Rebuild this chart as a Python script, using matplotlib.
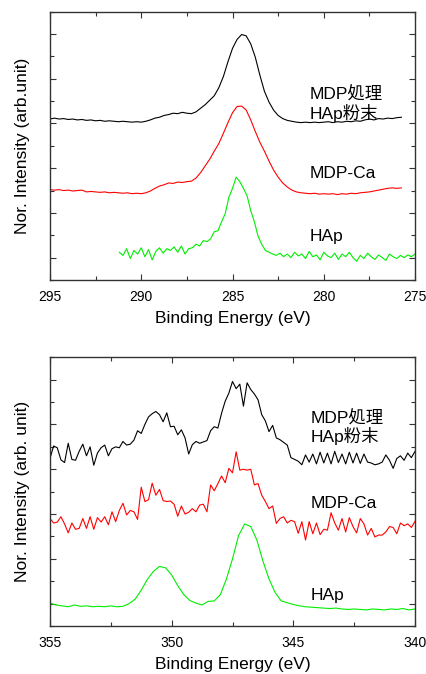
import matplotlib
matplotlib.use("Agg")
import matplotlib.pyplot as plt
from matplotlib.ticker import MultipleLocator
import numpy as np

plt.rcParams['font.family'] = ['Liberation Sans', 'Noto Sans CJK JP', 'DejaVu Sans']

# ---- C 1s region (top panel) ----
c1s_black_range = (295.0, 275.75)
c1s_black = [3.60, 3.62, 3.60, 3.61, 3.59, 3.60, 3.58, 3.59, 3.57, 3.58,
             3.56, 3.57, 3.55, 3.56, 3.55, 3.54, 3.55, 3.54, 3.53, 3.54,
             3.53, 3.55, 3.58, 3.62, 3.64, 3.68, 3.70, 3.73, 3.72, 3.75,
             3.73, 3.72, 3.76, 3.84, 3.92, 4.02, 4.12, 4.30, 4.55, 4.88,
             5.18, 5.38, 5.49, 5.46, 5.28, 4.98, 4.58, 4.22, 3.98, 3.80,
             3.68, 3.61, 3.57, 3.55, 3.53, 3.52, 3.53, 3.52, 3.53, 3.52,
             3.53, 3.54, 3.52, 3.54, 3.53, 3.55, 3.54, 3.56, 3.55, 3.58,
             3.60, 3.58, 3.61, 3.60, 3.62, 3.61, 3.63, 3.64]

c1s_red_range = (295.0, 275.75)
c1s_red = [2.02, 2.01, 2.02, 2.00, 2.01, 1.99, 2.00, 2.01, 1.97, 1.98,
           1.97, 1.96, 1.97, 1.95, 1.96, 1.95, 1.94, 1.95, 1.93, 1.94,
           1.93, 1.95, 1.99, 2.05, 2.10, 2.13, 2.17, 2.16, 2.19, 2.18,
           2.20, 2.21, 2.28, 2.40, 2.55, 2.70, 2.88, 3.05, 3.28, 3.52,
           3.74, 3.88, 3.89, 3.80, 3.58, 3.32, 3.08, 2.88, 2.66, 2.46,
           2.30, 2.17, 2.08, 2.01, 1.97, 1.95, 1.94, 1.93, 1.94, 1.92,
           1.93, 1.92, 1.93, 1.91, 1.93, 1.92, 1.94, 1.93, 1.95, 1.96,
           1.97, 1.99, 2.01, 2.03, 2.05, 2.06, 2.05, 2.06]

c1s_green_range = (291.2, 275.0)
c1s_green = [0.62, 0.55, 0.70, 0.48, 0.66, 0.58, 0.72, 0.52, 0.68, 0.45,
             0.64, 0.72, 0.60, 0.70, 0.66, 0.74, 0.62, 0.76, 0.58, 0.70,
             0.72, 0.80, 0.76, 0.88, 0.86, 0.92, 1.08, 1.10, 1.30, 1.48,
             1.85, 2.05, 2.30, 2.20, 2.05, 1.88, 1.55, 1.30, 0.98, 0.80,
             0.66, 0.62, 0.58, 0.55, 0.60, 0.52, 0.58, 0.50, 0.62, 0.54,
             0.58, 0.48, 0.64, 0.52, 0.56, 0.45, 0.62, 0.54, 0.50, 0.60,
             0.46, 0.58, 0.52, 0.62, 0.50, 0.42, 0.55, 0.48, 0.60, 0.52,
             0.46, 0.56, 0.50, 0.44, 0.58, 0.52, 0.48, 0.55, 0.50, 0.56,
             0.52, 0.58]

# ---- Ca 2p region (bottom panel) ----
ca2p_black_range = (355.0, 340.0)
ca2p_black = [3.74, 4.02, 3.98, 3.71, 3.65, 4.08, 3.72, 3.70, 3.90, 4.06,
              3.80, 4.00, 3.59, 3.86, 3.98, 4.04, 3.80, 3.96, 4.00, 3.98,
              4.12, 4.04, 4.06, 4.15, 4.36, 4.30, 4.50, 4.67, 4.74, 4.79,
              4.72, 4.56, 4.76, 4.45, 4.46, 4.27, 4.38, 4.20, 3.84, 4.05,
              4.12, 4.08, 4.11, 4.14, 4.36, 4.45, 4.42, 4.75, 5.02, 5.20,
              5.46, 5.30, 5.40, 4.91, 5.43, 5.28, 5.18, 5.05, 4.72, 4.58,
              4.34, 4.48, 4.20, 4.16, 4.10, 4.04, 3.76, 3.72, 3.68, 3.60,
              3.82, 3.66, 3.84, 3.62, 3.88, 3.64, 3.86, 3.62, 3.90, 3.65,
              3.84, 3.62, 3.88, 3.64, 3.86, 3.63, 3.84, 3.66, 3.64, 3.60,
              3.62, 3.66, 3.82, 3.70, 3.52, 3.74, 3.80, 3.70, 3.86, 3.76,
              3.90]

ca2p_red_range = (355.0, 340.0)
ca2p_red = [2.40, 2.30, 2.32, 2.44, 2.28, 2.08, 2.30, 2.16, 2.18, 2.40,
            2.18, 2.44, 2.16, 2.42, 2.32, 2.44, 2.26, 2.55, 2.33, 2.58,
            2.74, 2.48, 2.58, 2.55, 2.38, 3.10, 2.78, 2.82, 3.19, 2.92,
            3.05, 2.80, 2.78, 2.79, 2.72, 2.45, 2.68, 2.50, 2.54, 2.62,
            2.55, 2.70, 2.72, 2.55, 3.15, 3.02, 3.18, 3.35, 3.20, 3.52,
            3.42, 3.89, 3.48, 3.50, 3.48, 3.50, 3.15, 3.18, 2.92, 2.78,
            2.62, 2.68, 2.29, 2.40, 2.44, 2.30, 2.36, 2.33, 2.07, 2.33,
            1.92, 2.33, 2.06, 2.30, 2.04, 2.16, 2.14, 2.53, 2.30, 2.14,
            2.40, 2.10, 2.42, 2.22, 2.08, 2.40, 2.28, 2.03, 2.18, 1.99,
            2.03, 2.03, 2.10, 2.22, 2.20, 2.06, 2.30, 2.24, 2.28, 2.20,
            2.34]

ca2p_green_range = (355.0, 340.0)
ca2p_green = [0.51, 0.47, 0.45, 0.43, 0.47, 0.44, 0.45, 0.43, 0.44, 0.43,
              0.45, 0.43, 0.44, 0.50, 0.60, 0.80, 1.04, 1.22, 1.33, 1.30,
              1.14, 0.90, 0.70, 0.57, 0.51, 0.47, 0.55, 0.56, 0.70, 1.05,
              1.50, 2.02, 2.28, 2.22, 1.92, 1.45, 1.05, 0.75, 0.56, 0.52,
              0.48, 0.45, 0.43, 0.42, 0.41, 0.40, 0.39, 0.40, 0.38, 0.37,
              0.38, 0.37, 0.36, 0.38, 0.37, 0.36, 0.38, 0.37, 0.39, 0.36,
              0.38]

labels = ['MDP処理\nHAp粉末', 'MDP-Ca', 'HAp']
colors = ['black', '#ff0000', '#00ee00']


def energies(rng, vals):
    return np.linspace(rng[0], rng[1], len(vals))


fig = plt.figure(figsize=(4.27, 6.74), dpi=100)
ax1 = fig.add_axes([0.117, 0.5846, 0.855, 0.398])
ax2 = fig.add_axes([0.117, 0.0712, 0.855, 0.3987])

# top panel
ax1.plot(energies(c1s_black_range, c1s_black), c1s_black, color=colors[0], lw=0.8)
ax1.plot(energies(c1s_red_range, c1s_red), c1s_red, color=colors[1], lw=0.8)
ax1.plot(energies(c1s_green_range, c1s_green), c1s_green, color=colors[2], lw=0.8)
ax1.set_xlim(295, 275)
ax1.set_ylabel('Nor. Intensity (arb.unit)', fontsize=12.5)
ax1.text(280.77, 3.93, labels[0], fontsize=12.5, va='center', linespacing=1.05)
ax1.text(280.77, 2.39, labels[1], fontsize=12.5, va='center')
ax1.text(280.77, 0.98, labels[2], fontsize=12.5, va='center')

# bottom panel
ax2.plot(energies(ca2p_black_range, ca2p_black), ca2p_black, color=colors[0], lw=0.8)
ax2.plot(energies(ca2p_red_range, ca2p_red), ca2p_red, color=colors[1], lw=0.8)
ax2.plot(energies(ca2p_green_range, ca2p_green), ca2p_green, color=colors[2], lw=0.8)
ax2.set_xlim(355, 340)
ax2.set_ylabel('Nor. Intensity (arb. unit)', fontsize=12.5)
ax2.text(344.31, 4.43, labels[0], fontsize=12.5, va='center', linespacing=1.05)
ax2.text(344.31, 2.74, labels[1], fontsize=12.5, va='center')
ax2.text(344.31, 0.69, labels[2], fontsize=12.5, va='center')

for ax in (ax1, ax2):
    ax.set_ylim(0, 6)
    ax.set_xlabel('Binding Energy (eV)', fontsize=12.5, labelpad=5)
    ax.yaxis.set_label_coords(-0.055, 0.5)
    ax.xaxis.set_major_locator(MultipleLocator(5))
    ax.xaxis.set_minor_locator(MultipleLocator(2.5))
    ax.yaxis.set_major_locator(MultipleLocator(1.0, offset=0.5))
    ax.yaxis.set_minor_locator(MultipleLocator(0.5))
    ax.tick_params(which='both', direction='in', top=True, right=True,
                   labelsize=10, width=0.8, color='#333333')
    ax.tick_params(which='major', length=4)
    ax.tick_params(which='minor', length=3)
    ax.tick_params(axis='x', pad=7.5)
    ax.set_yticklabels([])
    for s in ax.spines.values():
        s.set_linewidth(1.0)
        s.set_color('#333333')

fig.savefig('out.png', dpi=100)
